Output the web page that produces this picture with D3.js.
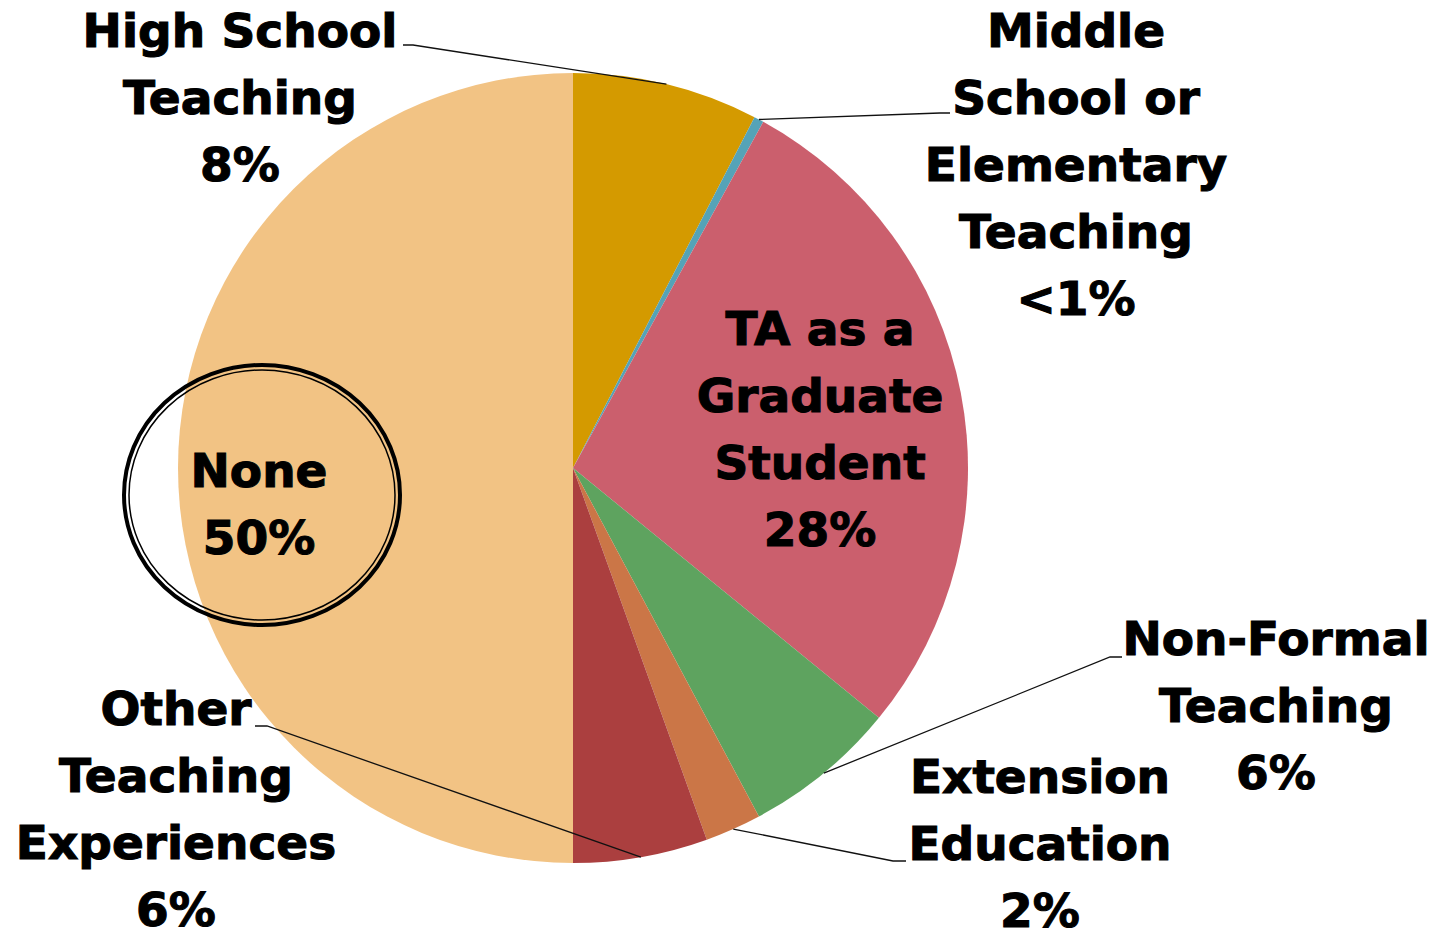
<head>
    <meta charset="UTF-8">
    <script src="https://d3js.org/d3.v7.min.js"></script>
    <style>
        body { margin: 0; background: white; }
        .lbl {
            font-family: "Arial Black", "DejaVu Sans", sans-serif;
            font-weight: bold;
            font-size: 47px;
            fill: black;
            stroke: black;
            stroke-width: 1.1px;
            text-anchor: middle;
        }
        .leader { fill: none; stroke: #111; stroke-width: 1.3px; }
    </style>
</head>
<body>
    <svg id="chart" width="1443" height="931"></svg>
    <script>
        // slices, clockwise from 12 o'clock
        const categories = ["High School Teaching", "Middle School or Elementary Teaching",
            "TA as a Graduate Student", "Non-Formal Teaching", "Extension Education",
            "Other Teaching Experiences", "None"];
        const values = [7.6, 0.4, 27.9, 6.3, 2.3, 5.5, 50];
        const pctLabels = ["8%", "<1%", "28%", "6%", "2%", "6%", "50%"];
        const colors = ["#D49A00", "#55A3B7", "#CB5F6D", "#5EA35F", "#CB7647", "#AB3F3F", "#F2C384"];

        // how each label is broken into lines
        const labelLines = [
            ["High School", "Teaching"],
            ["Middle", "School or", "Elementary", "Teaching"],
            ["TA as a", "Graduate", "Student"],
            ["Non-Formal", "Teaching"],
            ["Extension", "Education"],
            ["Other", "Teaching", "Experiences"],
            ["None"]
        ];

        // layout: label anchor (center x, first baseline) and leader elbows
        const labelPos = [[240, 47], [1076, 47], [820, 345], [1276, 655], [1040, 793], [176, 725], [259, 487]];
        const leaderElbow = [[[413, 45], [403, 45]], [[940, 113], [950, 113]], null,
            [[1110, 657], [1122, 657]], [[893, 861], [906, 861]], [[267, 726], [255, 726]], null];

        const svg = d3.select("svg#chart");
        const cx = 573, cy = 468, radius = 395;
        const lineH = 67;
        const g = svg.append("g").attr("transform", `translate(${cx},${cy})`);

        const data = categories.map((c, i) => ({name: c, value: values[i], i: i}));
        const pie = d3.pie().sort(null).value(d => d.value);
        const arcs = pie(data);
        const arc = d3.arc().innerRadius(0).outerRadius(radius);
        const rimArc = d3.arc().innerRadius(radius).outerRadius(radius);

        g.selectAll("path.slice")
            .data(arcs)
            .enter()
            .append("path")
            .attr("class", "slice")
            .attr("d", arc)
            .style("fill", d => colors[d.data.i]);

        // leader lines from the middle of the slice rim to the label
        const line = d3.line();
        arcs.forEach(a => {
            const el = leaderElbow[a.data.i];
            if (!el) return;
            const p = rimArc.centroid(a);
            svg.append("path")
                .attr("class", "leader")
                .attr("d", line([[p[0] + cx, p[1] + cy]].concat(el)));
        });

        // double circle around "None"
        svg.append("ellipse")
            .attr("cx", 262).attr("cy", 495).attr("rx", 138).attr("ry", 130)
            .style("fill", "none").style("stroke", "black").style("stroke-width", 4);
        svg.append("ellipse")
            .attr("cx", 262).attr("cy", 495).attr("rx", 133).attr("ry", 125)
            .style("fill", "none").style("stroke", "black").style("stroke-width", 1.5);

        // labels
        data.forEach((d, i) => {
            const t = svg.append("text").attr("class", "lbl");
            const lines = labelLines[i].concat([pctLabels[i]]);
            lines.forEach((s, k) => {
                t.append("tspan")
                    .attr("x", labelPos[i][0])
                    .attr("y", labelPos[i][1] + k * lineH)
                    .text(s);
            });
        });
    </script>
</body>
